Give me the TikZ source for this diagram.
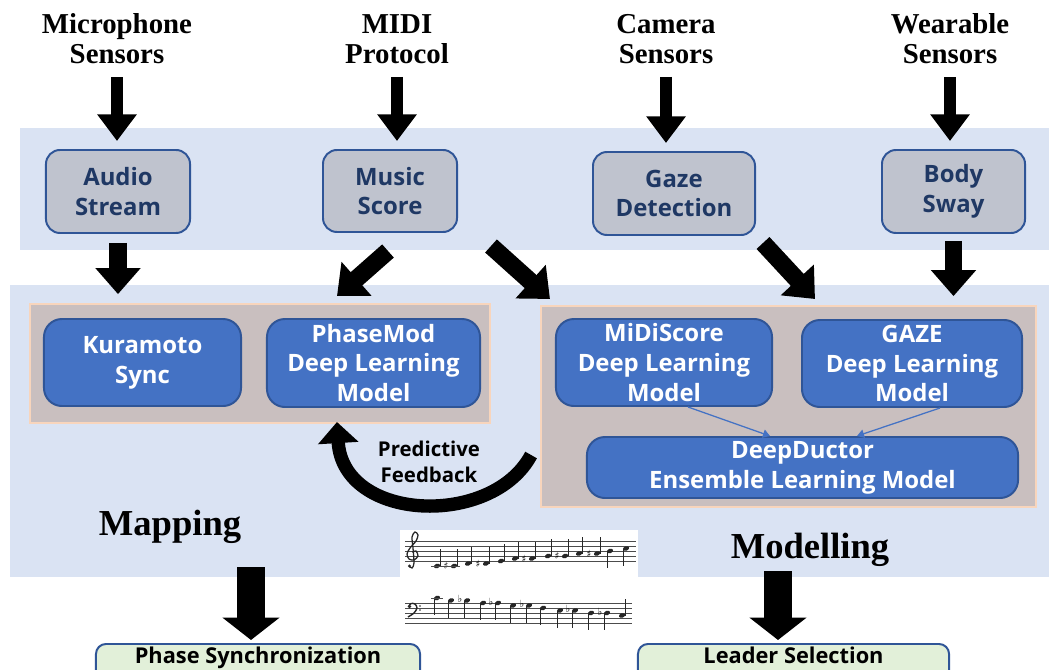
\documentclass[tikz,border=0pt]{standalone}
\usepackage{fontspec}
\setmainfont{Liberation Serif}
\newfontfamily\boxfont{Open Sans}
\newfontfamily\musicfont{DejaVu Sans}
\usepackage{tikz}
\usetikzlibrary{arrows.meta,positioning,calc}
\usepackage{xcolor}
\definecolor{bandblue}{HTML}{DAE3F3}
\definecolor{inputgrey}{HTML}{BFC3CE}
\definecolor{boxedge}{HTML}{2F5597}
\definecolor{navytext}{HTML}{1F3864}
\definecolor{modelblue}{HTML}{4472C4}
\definecolor{panelgrey}{HTML}{C9BFBF}
\definecolor{paneledge}{HTML}{F8D5BC}
\definecolor{outgreen}{HTML}{E2F0D9}

\tikzset{
  sensor/.style={font=\fontsize{20.5}{21.3}\selectfont\bfseries, align=center, inner sep=0pt},
  inbox/.style={draw=boxedge, line width=1.4pt, fill=inputgrey, rounded corners=0.35cm,
    text=navytext, font=\boxfont\bfseries\fontsize{17}{21}\selectfont, align=center, inner sep=0pt},
  model/.style={draw=boxedge, line width=1.4pt, fill=modelblue, rounded corners=0.45cm,
    text=white, font=\boxfont\bfseries\fontsize{17}{21.3}\selectfont, align=center, inner sep=0pt},
  panel/.style={draw=paneledge, line width=1.2pt, fill=panelgrey, inner sep=0pt},
  outbox/.style={draw=boxedge, line width=1.4pt, fill=outgreen, rounded corners=0.25cm,
    font=\boxfont\bfseries\fontsize{15.5}{19}\selectfont, inner sep=0pt, anchor=north,
    text height=0.5cm, text depth=1cm},
  stage/.style={font=\fontsize{26}{30}\selectfont\bfseries},
  inarrow/.style={line width=8pt, -{Triangle[width=27pt,length=19pt]}},
  midarrow/.style={line width=12.5pt, -{Triangle[width=31pt,length=18.5pt]}},
  outarrow/.style={line width=20pt, -{Triangle[width=40pt,length=16pt]}},
  thinarrow/.style={draw=modelblue, line width=0.9pt, -{Triangle[width=6pt,length=5pt]}},
  fbarrow/.style={line width=9.5pt, -{Triangle[width=28pt,length=15pt]}},
}

\begin{document}
\begin{tikzpicture}[x=0.025cm, y=-0.025cm]
    \path[use as bounding box, clip] (0,0) rectangle (1049,669);

    % 背景色带
    \fill[bandblue] (20,128) rectangle (1049,250);
    \fill[bandblue] (10,285) rectangle (1049,577);

    % 传感器
    \node[sensor] (micsens) at (117,39) {Microphone\\Sensors};
    \node[sensor] (midiproto) at (397,39) {MIDI\\Protocol};
    \node[sensor] (camsens) at (666,39) {Camera\\Sensors};
    \node[sensor] (wearsens) at (950,39) {Wearable\\Sensors};

    % 输入数据
    \node[inbox, minimum width=3.6cm, minimum height=2.075cm] (audio) at (118,191.5) {Audio\\Stream};
    \node[inbox, minimum width=3.35cm, minimum height=2.05cm] (score) at (390,191) {Music\\Score};
    \node[inbox, minimum width=4.05cm, minimum height=2.075cm] (gaze) at (674,193.5) {Gaze\\Detection};
    \node[inbox, minimum width=3.575cm, minimum height=2.075cm] (sway) at (953.5,191.5) {Body\\Sway};

    % 两个面板
    \node[panel, minimum width=11.5cm, minimum height=2.975cm] (mapbox) at (260,363.5) {};
    \node[panel, minimum width=12.375cm, minimum height=5.025cm] (modbox) at (788.5,406.5) {};

    % 模型
    \node[model, minimum width=4.925cm, minimum height=2.175cm] (kuramoto) at (142.5,362.5) {Kuramoto\\Sync};
    \node[model, minimum width=5.325cm, minimum height=2.2cm] (phasemod) at (373.5,363) {PhaseMod\\Deep Learning\\Model};
    \node[model, minimum width=5.4cm, minimum height=2.175cm] (midiscore) at (664,362.5) {MiDiScore\\Deep Learning\\Model};
    \node[model, minimum width=5.5cm, minimum height=2.175cm] (gazemodel) at (912,363.5) {GAZE\\Deep Learning\\Model};
    \node[model, minimum width=10.775cm, minimum height=1.525cm] (deepductor) at (802.5,467.5) {DeepDuctor\\Ensemble Learning Model};

    % 输出
    \node[outbox, minimum width=8.1cm] (phasesync) at (258,643) {Phase Synchronization};
    \node[outbox, minimum width=7.775cm] (leader) at (793.5,643) {Leader Selection};

    \node[stage] (mapping) at (170,527) {Mapping};
    \node[stage] (modelling) at (810,550) {Modelling};
    \node[font=\boxfont\bfseries\fontsize{14.5}{18.5}\selectfont, align=center] (fbtext) at (429,462) {Predictive\\Feedback};

    % 粗箭头
    \draw[inarrow, shorten <=0.325cm, shorten >=0.2cm] (micsens.south) -- (micsens.south |- audio.north);
    \draw[inarrow, shorten <=0.325cm, shorten >=0.2cm] (midiproto.south) -- (midiproto.south |- score.north);
    \draw[inarrow, shorten <=0.325cm, shorten >=0.2cm] (camsens.south) -- (camsens.south |- gaze.north);
    \draw[inarrow, shorten <=0.325cm, shorten >=0.2cm] (wearsens.south) -- (wearsens.south |- sway.north);

    \draw[midarrow, shorten <=0.225cm, shorten >=0.225cm] (audio.south) -- (audio.south |- mapbox.north);
    \draw[midarrow, shorten <=0.175cm, shorten >=0.225cm] (sway.south) -- (sway.south |- modbox.north);
    \draw[midarrow] ([xshift=-0.05cm, yshift=-0.45cm]score.south) -- ([xshift=-0.9125cm, yshift=0.55cm]phasemod.north);
    \draw[midarrow] ([xshift=0.825cm, yshift=-0.325cm]score.south east) -- ([xshift=-2.85cm, yshift=0.475cm]midiscore.north);
    \draw[midarrow] ([xshift=0.175cm, yshift=-0.175cm]gaze.south east) -- ([xshift=-2.425cm, yshift=0.5cm]gazemodel.north);

    % 细箭头
    \draw[thinarrow] ([xshift=0.6cm]midiscore.south) -- ([xshift=-0.8125cm]deepductor.north);
    \draw[thinarrow] ([xshift=0.7cm]gazemodel.south) -- ([xshift=1.3625cm]deepductor.north);

    % 反馈
    \draw[fbarrow] ([xshift=-0.225cm, yshift=-1.2125cm]modbox.west)
        .. controls (492,528) and (343,522) .. ([xshift=-0.9125cm, yshift=-0.35cm]phasemod.south);

    % 输出箭头
    \coordinate (mapout) at (251,567);
    \coordinate (modout) at (778,571);
    \draw[outarrow, shorten >=0.075cm] (mapout) -- (mapout |- phasesync.north);
    \draw[outarrow, shorten >=0.075cm] (modout) -- (modout |- leader.north);

    % 乐谱
    \fill[white] (400,530) rectangle (638,635);
    \foreach \k in {0,...,4} {
        \draw[black!70, line width=0.3pt] (405,541+5*\k) -- (636,541+5*\k);
        \draw[black!70, line width=0.3pt] (405,603+5*\k) -- (632,603+5*\k);
    }
    % 谱号
    \draw[black!85, line width=0.9pt] plot[smooth] coordinates {(409,566) (412,568) (414,563) (413,548)
        (412,537) (415,532) (418,535) (416,541) (410,548) (407,554) (409,559) (414,560) (418,556) (416,551) (412,552)};
    \fill[black!85] (409.5,566) circle (1.6);
    \draw[black!85, line width=1pt] plot[smooth] coordinates {(409,606) (411,603.5) (415,604) (417,608) (414,613) (408,617)};
    \fill[black!85] (409.5,606.5) circle (1.8);
    \fill[black!85] (420,606) circle (0.9) (420,610) circle (0.9);
    % 高音谱
    \foreach \nx/\ny/\acc/\stem in {437/566/0/1, 454/566/1/1, 468/563.5/0/1, 486/563.5/1/1, 501/561/0/1,
        515/558.5/0/1, 532/558.5/1/1, 548/556/0/1, 565/556/1/1, 579/553.5/0/1, 597/553.5/1/1,
        610/551/0/-1, 626/548.5/0/-1} {
        \fill[black!85, rotate around={20:(\nx,\ny)}] (\nx,\ny) ellipse (3.2 and 2.2);
        \draw[black!85, line width=0.4pt] (\nx+2.9*\stem,\ny) -- (\nx+2.9*\stem,\ny-17*\stem);
        \ifnum\acc=1 \node[font=\musicfont\fontsize{7}{7}\selectfont, inner sep=0pt] at (\nx-8,\ny) {♯}; \fi
    }
    \draw[black!70, line width=0.4pt] (431,566) -- (460,566);
    % 低音谱
    \foreach \nx/\ny/\acc/\stem in {437/598/0/-1, 451/600.5/0/-1, 467/600.5/1/-1, 483/603/0/-1, 498/603/1/-1,
        513/605.5/0/-1, 529/605.5/1/-1, 543/608/0/-1, 560/610.5/0/-1, 575/610.5/1/-1, 591/613/0/-1,
        607/613/1/-1, 622/615.5/0/1} {
        \fill[black!85, rotate around={20:(\nx,\ny)}] (\nx,\ny) ellipse (3.2 and 2.2);
        \draw[black!85, line width=0.4pt] (\nx+2.9*\stem,\ny) -- (\nx+2.9*\stem,\ny-17*\stem);
        \ifnum\acc=1 \node[font=\musicfont\fontsize{7}{7}\selectfont, inner sep=0pt] at (\nx-7,\ny-1.5) {♭}; \fi
    }
    \draw[black!70, line width=0.4pt] (431,598) -- (443,598);
\end{tikzpicture}
\end{document}
